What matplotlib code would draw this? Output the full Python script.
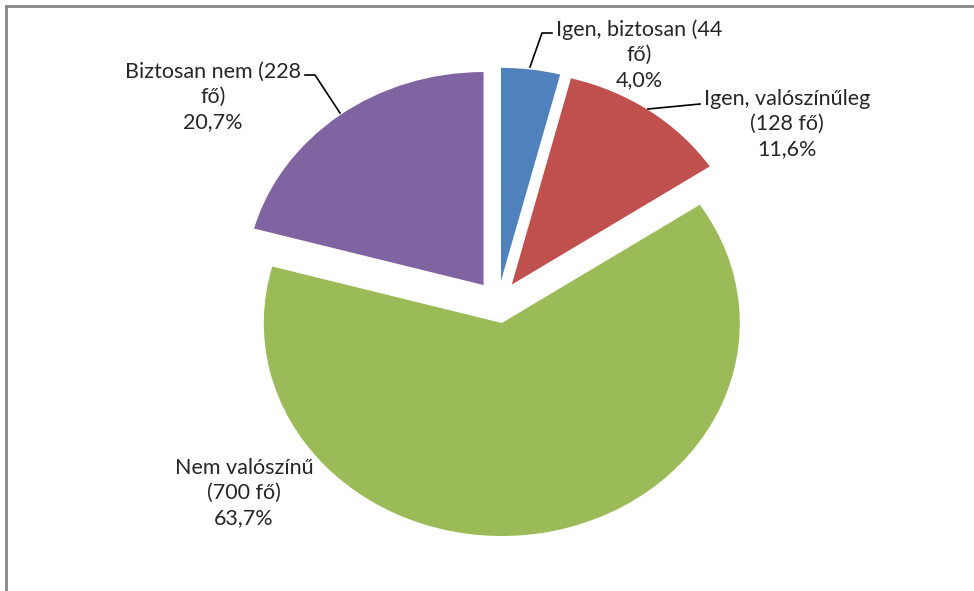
import matplotlib
matplotlib.use("Agg")
import matplotlib.pyplot as plt
from matplotlib.lines import Line2D

labels = ["Igen, biztosan (44\nfő)", "Igen, valószínűleg\n(128 fő)",
          "Nem valószínű\n(700 fő)", "Biztosan nem (228\nfő)"]
counts = [44, 128, 700, 228]
pcts = ["4,0%", "11,6%", "63,7%", "20,7%"]
colors = ["#4F81BD", "#C0504D", "#9BBB59", "#8064A2"]

W, H = 974, 591
CX, CY = 498, 302      # pie centre in pixels (from top)
RX, RY = 238, 213      # pixel radius horizontally / vertically


def to_data(px, py):
    return (px - CX) / RX, (CY - py) / RY


plt.rcParams['font.family'] = ['Lato', 'DejaVu Sans']

fig = plt.figure(figsize=(W / 100, H / 100), dpi=100)
ax = fig.add_axes([0, 0, 1, 1])
ax.pie(counts, colors=colors, startangle=90, counterclock=False,
       explode=[0.1] * 4, radius=1, wedgeprops=dict(linewidth=0))
ax.set_aspect('auto')
ax.set_xlim(-CX / RX, (W - CX) / RX)
ax.set_ylim((CY - H) / RY, CY / RY)
ax.axis('off')

text_pos = [(639, 55), (787, 124), (244, 493), (213, 97)]
for lab, p, (tx, ty) in zip(labels, pcts, text_pos):
    x, y = to_data(tx, ty)
    ax.text(x, y, lab + "\n" + p, ha='center', va='center', fontsize=15.5,
            color='#262626', linespacing=1.3)

# leader lines
leaders = [
    [(530, 67), (542, 33), (552, 33)],
    [(648, 109), (700, 104)],
    [(340, 113), (315, 75), (305, 75)],
]
for pts in leaders:
    xs, ys = zip(*[to_data(a, b) for a, b in pts])
    ax.plot(xs, ys, color='black', lw=1.2)

# chart frame (only top and left visible)
fig.add_artist(Line2D([6 / W, 6 / W], [0, 1 - 6 / H], color='#878787', lw=2,
                      transform=fig.transFigure))
fig.add_artist(Line2D([6 / W, 1], [1 - 6 / H, 1 - 6 / H], color='#878787', lw=2,
                      transform=fig.transFigure))

fig.savefig("out.png", dpi=100)
